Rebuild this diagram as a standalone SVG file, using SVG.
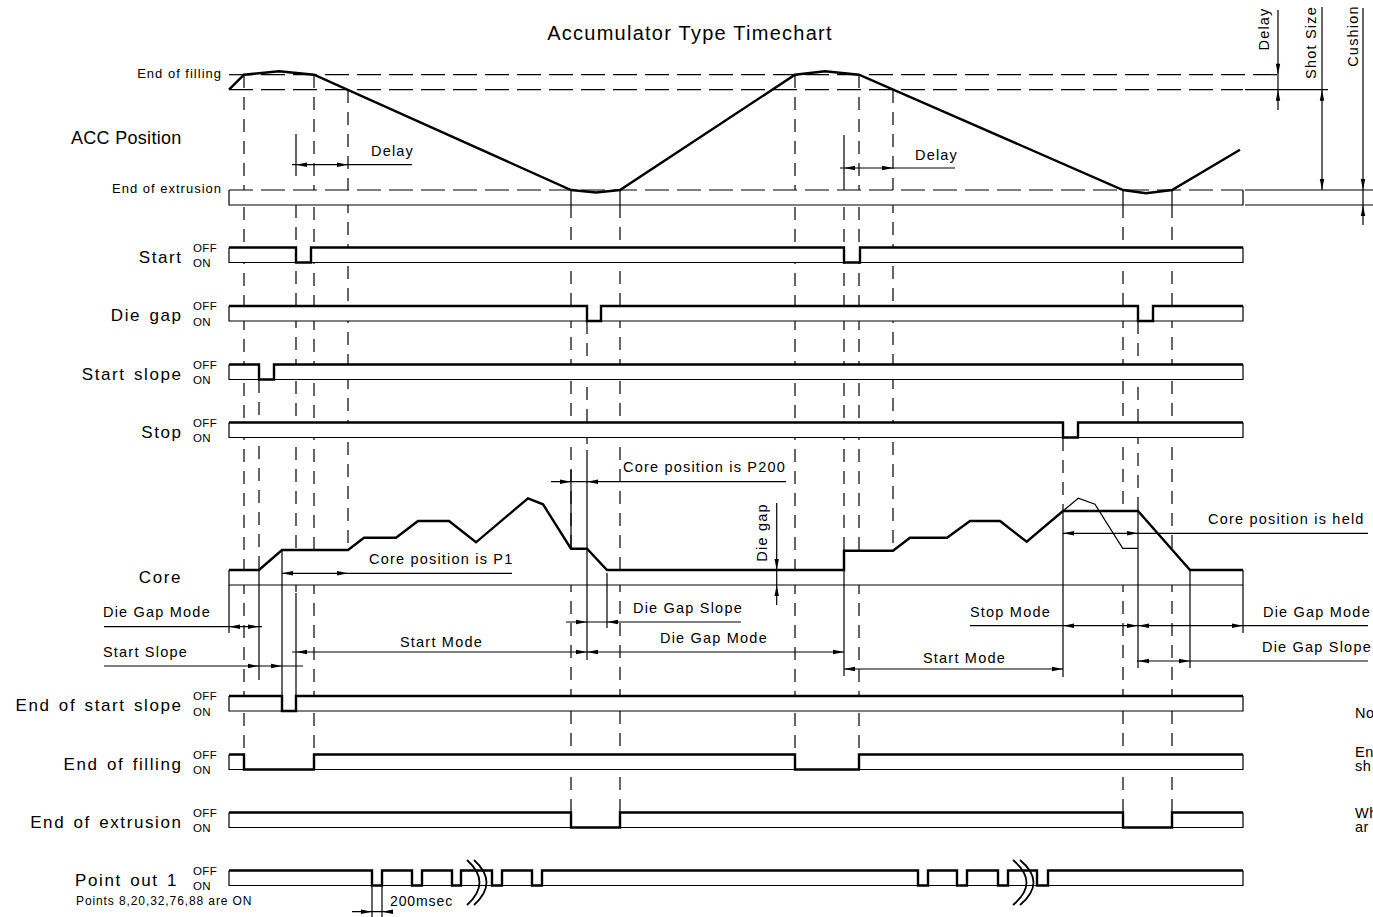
<svg xmlns="http://www.w3.org/2000/svg" xmlns:xlink="http://www.w3.org/1999/xlink" width="1373" height="917" viewBox="0 0 1373 917">
<style>
text{font-family:"Liberation Sans",Arial,sans-serif;fill:#000}
.ttl{font-size:20px;letter-spacing:1.25px}
.sm{font-size:13px;letter-spacing:1px}
.lab{font-size:17px;letter-spacing:1.6px;word-spacing:2px}
.oo{font-size:11.5px;letter-spacing:0.4px}
.dl{font-size:14.5px;letter-spacing:1.2px}
.big{font-size:18px;letter-spacing:0.3px}
.nt{font-size:14.5px;letter-spacing:0.5px}
.thin{stroke:#000;stroke-width:1.2;fill:none}
.thick{stroke:#000;stroke-width:2.4;fill:none;stroke-linejoin:miter}
.hd{stroke:#000;stroke-width:1.2;fill:none;stroke-dasharray:24 8}
.vd{stroke:#000;stroke-width:1.2;fill:none;stroke-dasharray:13 9}
.wf{fill:#fff;stroke:none}
.ar{fill:#000}
</style>
<defs>
<path id="a" class="ar" d="M0 0 L-11 -2.2 L-11 2.2 Z"/>
</defs>

<text class="ttl" x="690" y="40" text-anchor="middle">Accumulator Type Timechart</text>

<g id="connectors">
  <g id="guides">
    <path class="hd" d="M229 74.7 H1285"/>
    <path class="hd" d="M229 89.7 H1243"/>
    <path class="thin" d="M1245 89.7 H1328 M1245 190 H1373 M1245 205 H1373"/>
    <path class="vd" d="M244 75 V755 M314 75 V755 M795 75 V755 M859 75 V755 M348 90 V585 M893 90 V550 M259 380 V570 M296 205 V593 M571 205 V812 M620 205 V812 M1123 205 V812 M1172 205 V812 M587 321 V450 M844 185 V550 M1063 438 V511 M1138 321 V511"/>
  </g>
</g>

<g id="fills">
  <rect class="wf" x="229" y="190" width="1014" height="15"/>
  <rect class="wf" x="229" y="247.5" width="1014" height="15"/>
  <rect class="wf" x="229" y="306" width="1014" height="15"/>
  <rect class="wf" x="229" y="364.5" width="1014" height="15"/>
  <rect class="wf" x="229" y="422.5" width="1014" height="15"/>
  <rect class="wf" x="229" y="696" width="1014" height="15"/>
  <rect class="wf" x="229" y="754.5" width="1014" height="15"/>
  <rect class="wf" x="229" y="812.5" width="1014" height="15"/>
  <rect class="wf" x="229" y="870.5" width="1014" height="15"/>
  <path class="wf" d="M229 570 L259 570 L282 550 L348 550 L364 537.7 L396 537.7 L418 521 L449 521 L476 542.3 L528 498.3 L543 504.3 L571 548.7 L587 548.7 L607 570 L844 570 L844 550.7 L893 550.7 L910 537.7 L947 537.7 L970 521 L1000 521 L1026.7 541.7 L1063 511 L1138 511 L1190 570 L1243 570 L1243 585 L229 585 Z"/>
</g>

<g id="acc">
  <path class="hd" d="M229 190 H1243"/>
  <path class="thin" d="M229 190 V205 H1243 V190 M571 190 V205 M620 190 V205 M1123 190 V205 M1172 190 V205"/>
  <path class="thick" d="M229 89.7 L244 74.7 L279 71.3 L314 74.7 L571 190 L596 192.5 L620 190 L795 74.7 L825 71.3 L859 74.7 L1123 190 L1146 193.3 L1172 190 L1240 149.7"/>
  <text class="sm" x="222" y="78" text-anchor="end">End of filling</text>
  <text class="big" x="71" y="144">ACC Position</text>
  <text class="sm" x="222" y="193" text-anchor="end">End of extrusion</text>
</g>

<g id="dim-delay1">
  <path class="thin" d="M292 164.7 H412 M296 134 V176"/>
  <use href="#a" transform="translate(296 164.7) rotate(180)"/>
  <use href="#a" transform="translate(348 164.7)"/>
  <text class="dl" x="371" y="156">Delay</text>
</g>
<g id="dim-delay2">
  <path class="thin" d="M840 168 H955 M844 135 V185"/>
  <use href="#a" transform="translate(844 168) rotate(180)"/>
  <use href="#a" transform="translate(893 168)"/>
  <text class="dl" x="915" y="160">Delay</text>
</g>
<g id="dim-right">
  <path class="thin" d="M1278 10 V110 M1322 7 V190 M1363 8 V225"/>
  <use href="#a" transform="translate(1278 74.7) rotate(90)"/>
  <use href="#a" transform="translate(1278 89.7) rotate(-90)"/>
  <use href="#a" transform="translate(1322 89.7) rotate(-90)"/>
  <use href="#a" transform="translate(1322 190) rotate(90)"/>
  <use href="#a" transform="translate(1363 190) rotate(90)"/>
  <use href="#a" transform="translate(1363 205) rotate(-90)"/>
  <text class="dl" transform="translate(1269 29) rotate(-90)" text-anchor="middle">Delay</text>
  <text class="dl" transform="translate(1316 42.5) rotate(-90)" text-anchor="middle">Shot Size</text>
  <text class="dl" transform="translate(1358 36) rotate(-90)" text-anchor="middle">Cushion</text>
</g>

<g id="sig-start">
  <path class="thin" d="M229 247.5 V262.5 H1243 V247.5"/>
  <path class="thick" d="M229 247.5 H296 V262.5 H311 V247.5 H844 V262.5 H860 V247.5 H1243"/>
  <text class="lab" x="182.6" y="263" text-anchor="end">Start</text>
  <text class="oo" x="193" y="251.7">OFF</text><text class="oo" x="193" y="267">ON</text>
</g>
<g id="sig-diegap">
  <path class="thin" d="M229 306 V321 H1243 V306"/>
  <path class="thick" d="M229 306 H587 V321 H601 V306 H1138 V321 H1153 V306 H1243"/>
  <text class="lab" x="182.6" y="321" text-anchor="end">Die gap</text>
  <text class="oo" x="193" y="310.2">OFF</text><text class="oo" x="193" y="325.5">ON</text>
</g>
<g id="sig-startslope">
  <path class="thin" d="M229 364.5 V379.5 H1243 V364.5"/>
  <path class="thick" d="M229 364.5 H259 V379.5 H274 V364.5 H1243"/>
  <text class="lab" x="182.6" y="379.5" text-anchor="end">Start slope</text>
  <text class="oo" x="193" y="368.7">OFF</text><text class="oo" x="193" y="384">ON</text>
</g>
<g id="sig-stop">
  <path class="thin" d="M229 422.5 V437.5 H1243 V422.5"/>
  <path class="thick" d="M229 422.5 H1063 V437.5 H1078 V422.5 H1243"/>
  <text class="lab" x="182.6" y="437.5" text-anchor="end">Stop</text>
  <text class="oo" x="193" y="426.7">OFF</text><text class="oo" x="193" y="442">ON</text>
</g>

<g id="core">
  <path class="thin" d="M229 570 V585 H1243"/>
  <path class="thick" d="M229 570 L259 570 L282 550 L348 550 L364 537.7 L396 537.7 L418 521 L449 521 L476 542.3 L528 498.3 L543 504.3 L571 548.7 L587 548.7 L607 570 L844 570 L844 550.7 L893 550.7 L910 537.7 L947 537.7 L970 521 L1000 521 L1026.7 541.7 L1063 511 L1138 511 L1190 570 L1243 570"/>
  <path class="thin" d="M1063 511 L1078.3 498.3 L1095 504.3 L1122.7 548.3 L1138 548.3"/>
  <text class="lab" x="182" y="583" text-anchor="end">Core</text>
</g>

<g id="core-dims">
  <path class="thin" d="M229 585 V633 M259 570 V680 M282 550 V696 M296 593 V696 M571 470 V548.7 M587 450 V660 M607 573 V628 M844 550.7 V676 M1063 511 V677 M1138 511 V668 M1190 570 V668 M1243 570 V633"/>
  <path class="thin" d="M104 626.7 H262"/>
  <use href="#a" transform="translate(229 626.7) rotate(180)"/>
  <use href="#a" transform="translate(259 626.7)"/>
  <text class="dl" x="103" y="617">Die Gap Mode</text>
  <path class="thin" d="M104 666 H303"/>
  <use href="#a" transform="translate(259 666)"/>
  <use href="#a" transform="translate(282 666)"/>
  <text class="dl" x="103" y="657">Start Slope</text>
  <path class="thin" d="M282 573.3 H512"/>
  <use href="#a" transform="translate(282 573.3) rotate(180)"/>
  <use href="#a" transform="translate(348 573.3)"/>
  <text class="dl" x="369" y="564">Core position is P1</text>
  <path class="thin" d="M551 481.7 H786"/>
  <use href="#a" transform="translate(571 481.7)"/>
  <use href="#a" transform="translate(587 481.7) rotate(180)"/>
  <text class="dl" x="623" y="472">Core position is P200</text>
  <path class="thin" d="M776.7 503 V605"/>
  <use href="#a" transform="translate(776.7 570) rotate(90)"/>
  <use href="#a" transform="translate(776.7 585) rotate(-90)"/>
  <text class="dl" transform="translate(767 532.5) rotate(-90)" text-anchor="middle">Die gap</text>
  <path class="thin" d="M566 622 H741"/>
  <use href="#a" transform="translate(587 622)"/>
  <use href="#a" transform="translate(607 622) rotate(180)"/>
  <text class="dl" x="633" y="613">Die Gap Slope</text>
  <path class="thin" d="M292 652 H844"/>
  <use href="#a" transform="translate(296 652) rotate(180)"/>
  <use href="#a" transform="translate(587 652)"/>
  <use href="#a" transform="translate(587 652) rotate(180)"/>
  <use href="#a" transform="translate(844 652)"/>
  <text class="dl" x="400" y="647">Start Mode</text>
  <text class="dl" x="660" y="643">Die Gap Mode</text>
  <path class="thin" d="M844 669 H1063"/>
  <use href="#a" transform="translate(844 669) rotate(180)"/>
  <use href="#a" transform="translate(1063 669)"/>
  <text class="dl" x="923" y="663">Start Mode</text>
  <path class="thin" d="M970 625.7 H1368"/>
  <use href="#a" transform="translate(1063 625.7) rotate(180)"/>
  <use href="#a" transform="translate(1138 625.7)"/>
  <use href="#a" transform="translate(1138 625.7) rotate(180)"/>
  <use href="#a" transform="translate(1243 625.7)"/>
  <text class="dl" x="970" y="617">Stop Mode</text>
  <text class="dl" x="1263" y="617">Die Gap Mode</text>
  <path class="thin" d="M1137 661 H1368"/>
  <use href="#a" transform="translate(1138 661) rotate(180)"/>
  <use href="#a" transform="translate(1190 661)"/>
  <text class="dl" x="1262" y="652">Die Gap Slope</text>
  <path class="thin" d="M1063 533.3 H1368"/>
  <use href="#a" transform="translate(1063 533.3) rotate(180)"/>
  <use href="#a" transform="translate(1138 533.3)"/>
  <text class="dl" x="1208" y="524">Core position is held</text>
</g>

<g id="sig-endstartslope">
  <path class="thin" d="M229 696 V711 H1243 V696"/>
  <path class="thick" d="M229 696 H282 V711 H296 V696 H1243"/>
  <text class="lab" x="182.6" y="711" text-anchor="end">End of start slope</text>
  <text class="oo" x="193" y="700.2">OFF</text><text class="oo" x="193" y="715.5">ON</text>
</g>
<g id="sig-endfilling">
  <path class="thin" d="M229 754.5 V769.5 H1243 V754.5"/>
  <path class="thick" d="M229 754.5 H244 V769.5 H314 V754.5 H795 V769.5 H859 V754.5 H1243"/>
  <text class="lab" x="182.6" y="769.5" text-anchor="end">End of filling</text>
  <text class="oo" x="193" y="758.7">OFF</text><text class="oo" x="193" y="774">ON</text>
</g>
<g id="sig-endextrusion">
  <path class="thin" d="M229 812.5 V827.5 H1243 V812.5"/>
  <path class="thick" d="M229 812.5 H571 V827.5 H620 V812.5 H1123 V827.5 H1172 V812.5 H1243"/>
  <text class="lab" x="182.6" y="827.5" text-anchor="end">End of extrusion</text>
  <text class="oo" x="193" y="816.7">OFF</text><text class="oo" x="193" y="832">ON</text>
</g>
<g id="sig-pointout">
  <path class="thin" d="M229 870.5 V885.5 H1243 V870.5"/>
  <path class="thick" d="M229 870.5 H372 V885.5 H382 V870.5 H412 V885.5 H422 V870.5 H452 V885.5 H461 V870.5 H492 V885.5 H502 V870.5 H532 V885.5 H542 V870.5 H918 V885.5 H928 V870.5 H957 V885.5 H967 V870.5 H998 V885.5 H1008 V870.5 H1037 V885.5 H1048 V870.5 H1243"/>
  <path class="thick" d="M467 860 Q492 882.5 467 905 M474 860 Q499 882.5 474 905 M1013 860 Q1040 882.5 1013 905 M1020 860 Q1047 882.5 1020 905" style="stroke-width:1.8"/>
  <text class="lab" x="178" y="885.5" text-anchor="end">Point out 1</text>
  <text class="oo" x="193" y="874.7">OFF</text><text class="oo" x="193" y="890">ON</text>
  <text x="76" y="905" style="font-size:12px;letter-spacing:0.9px">Points 8,20,32,76,88 are ON</text>
  <path class="thin" d="M352 911.7 H392 M372 885 V917 M382 885 V917"/>
  <use href="#a" transform="translate(372 911.7)"/>
  <use href="#a" transform="translate(382 911.7) rotate(180)"/>
  <text x="390" y="906" style="font-size:14px;letter-spacing:0.9px">200msec</text>
</g>

<g id="notes">
  <text class="nt" x="1355" y="718">No</text>
  <text class="nt" x="1355" y="757">En</text>
  <text class="nt" x="1355" y="771">sh</text>
  <text class="nt" x="1355" y="818">Wh</text>
  <text class="nt" x="1355" y="832">ar</text>
</g>
</svg>
